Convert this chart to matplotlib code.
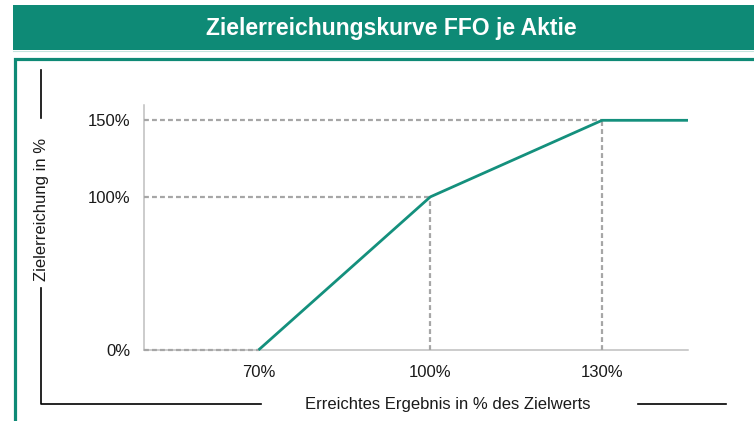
import matplotlib
matplotlib.use("Agg")
import matplotlib.pyplot as plt
from matplotlib.patches import Rectangle
from matplotlib.lines import Line2D

plt.rcParams['font.family'] = ['Liberation Sans', 'DejaVu Sans']

# Data
curve_x = [70, 100, 130, 145]
curve_y = [0, 100, 150, 150]
x_ticks = [70, 100, 130]
x_tick_labels = ["70%", "100%", "130%"]
y_ticks = [0, 100, 150]
y_tick_labels = ["0%", "100%", "150%"]
title = "Zielerreichungskurve FFO je Aktie"
x_label = "Erreichtes Ergebnis in % des Zielwerts"
y_label = "Zielerreichung in %"

TEAL = '#0E8A76'
LINE = '#14907D'
GRID = '#A6A6A6'
SPINE = '#BFBFBF'
TXT = '#1a1a1a'

W, H = 754, 421
fig = plt.figure(figsize=(W / 100, H / 100), dpi=100)

def fx(px):
    return px / W

def fy(py):
    return 1 - py / H

# Banner
fig.patches.append(Rectangle((fx(13), fy(50)), fx(760) - fx(13), fy(5) - fy(50),
                             transform=fig.transFigure, facecolor=TEAL, edgecolor='none', zorder=0))
fig.add_artist(Line2D([fx(13), fx(760)], [fy(51), fy(51)], color='#C5E4DE', lw=0.8))
fig.text(fx(391), fy(28), title, color='white', fontsize=16.5, fontweight='bold',
         ha='center', va='center')

# Box
fig.patches.append(Rectangle((fx(14.5), fy(440)), fx(800) - fx(14.5), fy(59) - fy(440),
                             transform=fig.transFigure, facecolor='none', edgecolor=TEAL,
                             lw=2.3, zorder=0))

# Bracket lines
blk = dict(color='black', lw=1.2)
fig.add_artist(Line2D([fx(41), fx(41)], [fy(70), fy(118)], **blk))
fig.add_artist(Line2D([fx(41), fx(41), fx(261)], [fy(288), fy(404), fy(404)], **blk))
fig.add_artist(Line2D([fx(638), fx(726)], [fy(404), fy(404)], **blk))
fig.text(fx(448), fy(404), x_label, fontsize=12, ha='center', va='center', color=TXT)
fig.text(fx(42), fy(209), y_label, fontsize=12, ha='center', va='center', rotation=90,
         color=TXT)

# Axes
ax = fig.add_axes([fx(144), fy(350), fx(688) - fx(144), fy(105) - fy(350)])
ax.set_xlim(50, 145)
ax.set_ylim(0, 160)
for s in ['top', 'right']:
    ax.spines[s].set_visible(False)
for s in ['left', 'bottom']:
    ax.spines[s].set_color(SPINE)
    ax.spines[s].set_linewidth(1.1)

dash = dict(color=GRID, lw=1.6, ls=(0, (2.2, 1.4)), zorder=3, clip_on=False)
xmin = ax.get_xlim()[0]
for xv, yv in zip(curve_x[:3], curve_y[:3]):
    ax.plot([xmin, xv], [yv, yv], **dash)
    if yv > 0:
        ax.plot([xv, xv], [0, yv], **dash)

ax.plot(curve_x, curve_y, color=LINE, lw=2.0, zorder=4, clip_on=False, solid_capstyle='butt')

ax.set_xticks(x_ticks)
ax.set_xticklabels(x_tick_labels, fontsize=12, color=TXT)
ax.set_yticks(y_ticks)
ax.set_yticklabels(y_tick_labels, fontsize=12, color=TXT)
ax.tick_params(axis='both', length=0)
ax.tick_params(axis='x', pad=11)
ax.tick_params(axis='y', pad=10)

fig.savefig('out.png', dpi=100)
